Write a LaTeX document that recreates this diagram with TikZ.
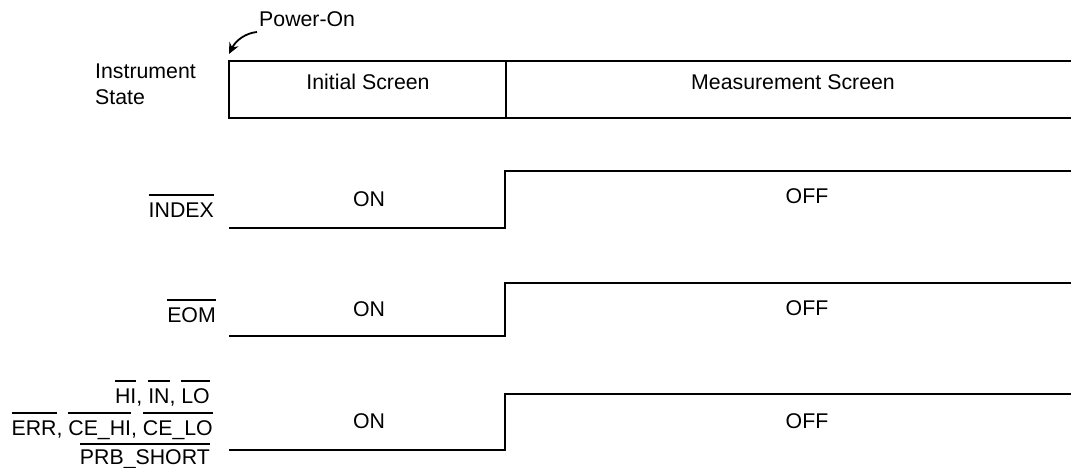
\documentclass[tikz,border=0pt]{standalone}
\usepackage{fontspec}
\setmainfont{Liberation Sans}
\usetikzlibrary{arrows.meta}
\newcommand\ob[1]{\vbox{\hrule height 2.3pt\kern 6pt\hbox{#1}}}
\begin{document}
\begin{tikzpicture}[x=1pt,y=-1pt,
  lbl/.style={inner sep=0pt,font=\fontsize{21.3}{26}\selectfont},
  sig/.style={line width=2.6pt,line join=miter},
  pow/.style={line width=1.8pt,-{Stealth[length=11pt,width=10pt]}}]
\useasboundingbox (0,0) rectangle (1071,468);
% instrument state box
\draw[sig] (1080,61) -- (229,61) -- (229,118) -- (1080,118);
\draw[sig] (506,61) -- (506,118);
\node[lbl,anchor=base west] (pw) at (259,27) {Power-On};
\coordinate (corner) at (229,54);
\draw[pow] (257,32) .. controls (246,33) and (236,40) .. (corner);
\node[lbl,anchor=base west,align=left] (st) at (95,105) {Instrument\\State};
\node[lbl,anchor=base] (init) at (368,90) {Initial Screen};
\node[lbl,anchor=base] (meas) at (793,90) {Measurement Screen};
% INDEX
\draw[sig] (229,228) -- (505,228) -- (505,171) -- (1080,171);
\node[lbl,anchor=base east] (lindex) at (214,217) {\ob{INDEX}};
\node[lbl,anchor=base] (on1) at (369,206) {ON};
\node[lbl,anchor=base] (off1) at (807,203) {OFF};
% EOM
\draw[sig] (229,336) -- (505,336) -- (505,283) -- (1080,283);
\node[lbl,anchor=base east] (leom) at (216,322) {\ob{EOM}};
\node[lbl,anchor=base] (on2) at (369,316) {ON};
\node[lbl,anchor=base] (off2) at (807,315) {OFF};
% judgement outputs
\draw[sig] (229,450) -- (505,450) -- (505,394) -- (1080,394);
\node[lbl,anchor=base east] (lj1) at (210,403) {\ob{HI}, \ob{IN}, \ob{LO}};
\node[lbl,anchor=base east] (lj2) at (213,435) {\ob{ERR}, \ob{CE\_HI}, \ob{CE\_LO}};
\node[lbl,anchor=base east] (lj3) at (210,464) {\vbox{\hrule height 2.3pt\kern 4pt\hbox{PRB\_SHORT}}};
\node[lbl,anchor=base] (on3) at (369,428) {ON};
\node[lbl,anchor=base] (off3) at (807,428) {OFF};
\end{tikzpicture}
\end{document}
